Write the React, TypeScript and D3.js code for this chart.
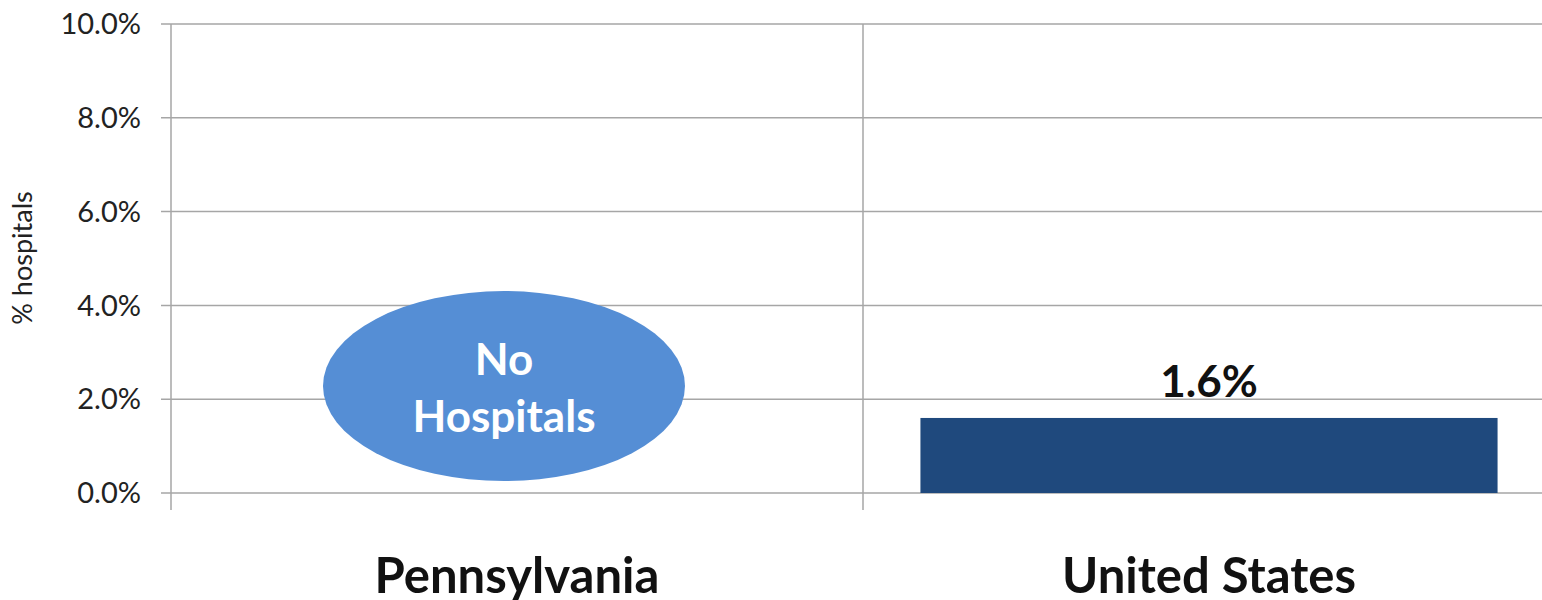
import React from "react";
import * as d3 from "d3";

const categories = ["Pennsylvania", "United States"];
const values: (number | null)[] = [null, 1.6];
const valueLabels = ["", "1.6%"];
const yTicks = [0, 2, 4, 6, 8, 10];
const noDataLines = ["No", "Hospitals"];
const noDataCenterValue = 2.28;

const W = 1542;
const H = 600;
const FONT = "Lato, 'Open Sans', sans-serif";

export default function App() {
  const y = d3.scaleLinear().domain([0, 10]).range([493, 24]);
  const x = d3.scaleBand<string>().domain(categories).range([171, 1555]).padding(0);
  const bw = x.bandwidth();
  const barW = bw * 0.834;
  const gridColor = "#a6a6a6";
  const fmt = (v: number) => d3.format(".1f")(v) + "%";

  return (
    <div style={{ position: "absolute", left: 0, top: 0 }}>
      <svg width={W} height={H} style={{ display: "block", background: "#fff" }}>
        {yTicks.map((t) => (
          <line key={"g" + t} x1={161} x2={W} y1={y(t)} y2={y(t)} stroke={gridColor} strokeWidth={1.5} />
        ))}
        {[...categories.map((c) => x(c) as number), (x(categories[categories.length - 1]) as number) + bw].map((bx, i) => (
          <line key={"v" + i} x1={bx} x2={bx} y1={y(10)} y2={y(0) + 17} stroke={gridColor} strokeWidth={1.5} />
        ))}
        {yTicks.map((t) => (
          <text key={"t" + t} x={141} y={y(t)} dy="0.35em" textAnchor="end" fontFamily={FONT} fontSize={29} fill="#222">
            {fmt(t)}
          </text>
        ))}
        <text
          transform={`translate(32,258) rotate(-90)`}
          textAnchor="middle"
          fontFamily={FONT}
          fontSize={27}
          fill="#222"
        >
          % hospitals
        </text>
        {categories.map((c, i) => {
          const v = values[i];
          const cx = (x(c) as number) + bw / 2;
          if (v == null) {
            const ey = y(noDataCenterValue);
            const ex = cx - 13;
            return (
              <g key={c}>
                <ellipse cx={ex} cy={ey} rx={181} ry={95} fill="#558ed5" />
                {noDataLines.map((ln, j) => (
                  <text
                    key={j}
                    x={ex}
                    y={ey - 11 + j * 57}
                    textAnchor="middle"
                    fontFamily={FONT}
                    fontWeight="bold"
                    fontSize={44}
                    fill="#fff"
                  >
                    {ln}
                  </text>
                ))}
              </g>
            );
          }
          return (
            <g key={c}>
              <rect x={cx - barW / 2} y={y(v)} width={barW} height={y(0) - y(v)} fill="#1f497d" />
              <text x={cx} y={y(v) - 21} textAnchor="middle" fontFamily={FONT} fontWeight="bold" fontSize={44} fill="#111">
                {valueLabels[i]}
              </text>
            </g>
          );
        })}
        {categories.map((c) => (
          <text
            key={"c" + c}
            x={(x(c) as number) + bw / 2}
            y={593}
            textAnchor="middle"
            fontFamily={FONT}
            fontWeight="bold"
            fontSize={49}
            fill="#111"
          >
            {c}
          </text>
        ))}
      </svg>
    </div>
  );
}
